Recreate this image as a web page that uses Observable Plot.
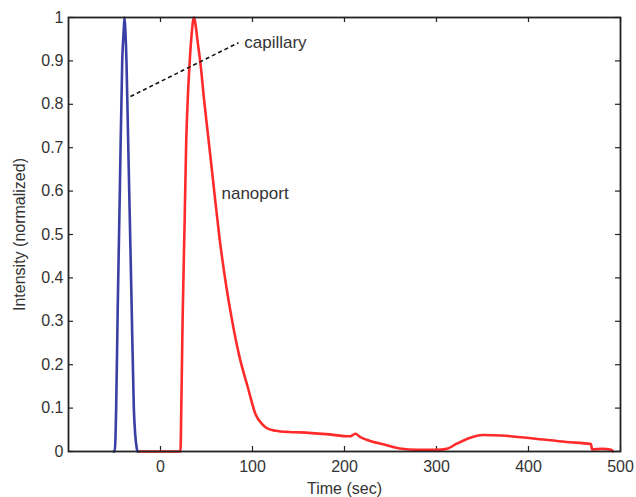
<!DOCTYPE html>
<html>
<head>
<meta charset="utf-8">
<script src="https://cdn.jsdelivr.net/npm/d3@7"></script>
<script src="https://cdn.jsdelivr.net/npm/@observablehq/plot@0.6"></script>
<style>
  html, body { margin: 0; padding: 0; background: #fff; }
  svg { font-family: "Liberation Sans", Arial, sans-serif; }
</style>
</head>
<body>
<div id="chart"></div>
<script>
// Capillary (blue) trace
const capTime = [-51, -49.7, -48.2, -46.5, -44.2, -41.6, -40.0, -39.1, -38.2, -37.0, -35.5, -34.0, -31.5, -29.0, -27.5, -26.0, -25.0, -24.0];
const capIntensity = [0, 0.0, 0.1, 0.33, 0.6, 0.9, 0.97, 1.0, 0.97, 0.9, 0.75, 0.6, 0.35, 0.1, 0.04, 0.01, 0.0, 0.0];

// Nanoport (red) trace
const nanoTime = [-24, 0, 21.7, 22.6, 24.0, 26.1, 27.9, 29.8, 31.8, 33.8, 35.2, 36.5, 38.0, 40.0, 43.5, 47.1, 50.8, 55.4, 59.0, 64.1, 71.7, 77.9, 85.1, 94.9, 103.3, 110.5, 117, 125, 140, 152, 180, 206, 209, 212, 216, 224, 243, 260, 279, 300, 311, 322, 333, 351, 370, 405, 441, 468, 469, 480, 490, 492];
const nanoIntensity = [0, 0, 0, 0.1, 0.3, 0.516, 0.709, 0.82, 0.9, 0.96, 0.99, 1.0, 0.985, 0.95, 0.893, 0.816, 0.745, 0.658, 0.588, 0.493, 0.378, 0.301, 0.225, 0.148, 0.086, 0.063, 0.052, 0.048, 0.045, 0.044, 0.04, 0.035, 0.038, 0.041, 0.035, 0.027, 0.016, 0.007, 0.004, 0.004, 0.006, 0.018, 0.029, 0.038, 0.037, 0.030, 0.022, 0.017, 0.005, 0.006, 0.004, 0.0];

const xTicks = [0, 100, 200, 300, 400, 500];
const yTicks = [0, 0.1, 0.2, 0.3, 0.4, 0.5, 0.6, 0.7, 0.8, 0.9, 1];

// Annotations
const capLabel = {text: "capillary", x: 91, y: 0.943};
const nanoLabel = {text: "nanoport", x: 66.3, y: 0.594};
const capPointer = {x1: -32.6, y1: 0.818, x2: 84.8, y2: 0.942};

const cap = capTime.map((t, i) => ({t, v: capIntensity[i]}));
const nano = nanoTime.map((t, i) => ({t, v: nanoIntensity[i]}));

const yFmt = d => d === 0 ? "0" : d === 1 ? "1" : d3.format(".1f")(d);
const tickLenY = 5 / 434;
const tickLenX = 5 / 0.92;

const plot = Plot.plot({
  width: 636,
  height: 497,
  marginLeft: 68,
  marginRight: 16,
  marginTop: 17,
  marginBottom: 46,
  style: {fontFamily: "'Liberation Sans', Arial, sans-serif", fontSize: "16px", color: "#333", background: "#fff"},
  x: {domain: [-100, 500], ticks: xTicks},
  y: {domain: [0, 1], ticks: yTicks},
  marks: [
    Plot.axisX({ticks: xTicks, tickSize: 0, tickPadding: 9, fontSize: 16, fill: "#333",
      label: "Time (sec)", labelAnchor: "center", labelArrow: "none", labelOffset: 42}),
    Plot.axisY({ticks: yTicks, tickSize: 0, tickPadding: 5, tickFormat: yFmt, fontSize: 16, fill: "#333",
      label: "Intensity (normalized)", labelAnchor: "center", labelArrow: "none", labelOffset: 55}),
    Plot.ruleX(xTicks, {x: d => d, y1: 0, y2: tickLenY, stroke: "#222", strokeWidth: 1.2}),
    Plot.ruleX(xTicks, {x: d => d, y1: 1, y2: 1 - tickLenY, stroke: "#222", strokeWidth: 1.2}),
    Plot.ruleY(yTicks, {y: d => d, x1: -100, x2: -100 + tickLenX, stroke: "#222", strokeWidth: 1.2}),
    Plot.ruleY(yTicks, {y: d => d, x1: 500, x2: 500 - tickLenX, stroke: "#222", strokeWidth: 1.2}),
    Plot.line(nano, {x: "t", y: "v", stroke: "#ff2b2b", strokeWidth: 2.6, curve: "monotone-x"}),
    Plot.line(cap, {x: "t", y: "v", stroke: "#3a3fa6", strokeWidth: 2.6, curve: "monotone-x"}),
    Plot.link([capPointer], {x1: "x1", y1: "y1", x2: "x2", y2: "y2", stroke: "#111", strokeWidth: 1.6, strokeDasharray: "4,3"}),
    Plot.text([capLabel, nanoLabel], {x: "x", y: "y", text: "text", textAnchor: "start", fontSize: 17, fill: "#333"}),
    Plot.frame({stroke: "#222", strokeWidth: 1.8})
  ]
});
document.getElementById("chart").appendChild(plot);
</script>
</body>
</html>
